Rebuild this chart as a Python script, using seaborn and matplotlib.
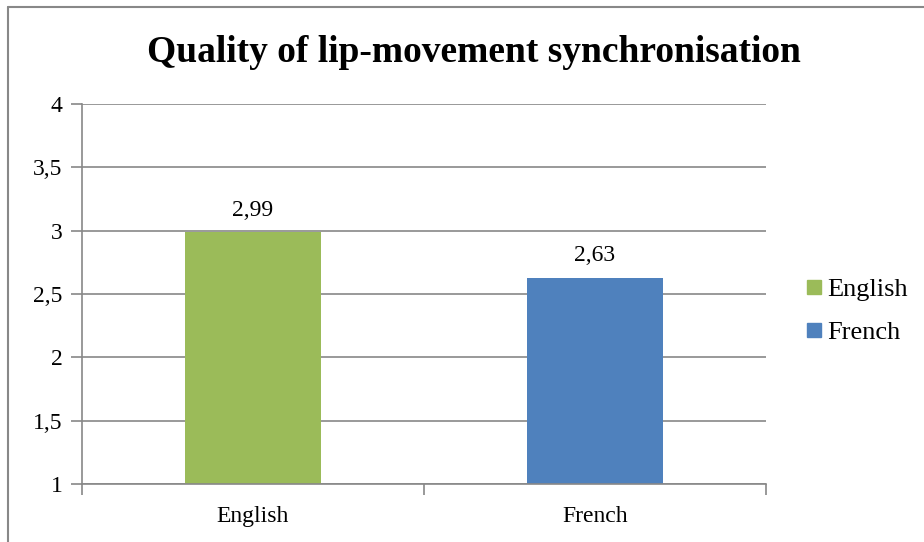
import matplotlib
matplotlib.use("Agg")
import matplotlib.pyplot as plt
import matplotlib.lines as mlines
import seaborn as sns

# chart data
languages = ["English", "French"]
scores = [2.99, 2.63]
score_labels = ["2,99", "2,63"]
y_ticks = [1, 1.5, 2, 2.5, 3, 3.5, 4]
y_tick_labels = ["1", "1,5", "2", "2,5", "3", "3,5", "4"]
colors = ["#9BBB59", "#4F81BD"]

sns.set_style("white")
plt.rcParams["font.family"] = ["Liberation Serif", "DejaVu Serif"]
plt.rcParams["text.color"] = "black"

fig = plt.figure(figsize=(9.24, 5.42), dpi=100)
ax = fig.add_axes([82 / 924, 1 - 484 / 542, (766 - 82) / 924, (484 - 104) / 542])

sns.barplot(x=languages, y=scores, hue=languages, palette=colors,
            width=0.4, dodge=False, legend=False, ax=ax, saturation=1,
            linewidth=0)

ax.set_ylim(1, 4)
ax.set_xlim(-0.5, 1.5)
ax.set_yticks(y_ticks)
ax.set_yticklabels(y_tick_labels, fontsize=17)
ax.tick_params(axis="x", labelsize=17, length=0, pad=16, labelcolor="black")
ax.tick_params(axis="y", length=8, width=1.2, color="#888888", pad=6, left=True,
               labelcolor="black")
ax.grid(axis="y", color="#888888", linewidth=1.2)
ax.set_axisbelow(True)
ax.set_xlabel("")
ax.set_ylabel("")

# category boundary ticks on the x axis
ax.set_xticks([-0.5, 0.5, 1.5], minor=True)
ax.tick_params(axis="x", which="minor", length=8, width=1.2, color="#888888", bottom=True)

for side in ["top", "right"]:
    ax.spines[side].set_visible(False)
for side in ["left", "bottom"]:
    ax.spines[side].set_color("#888888")
    ax.spines[side].set_linewidth(1.2)

for cont, lab in zip(ax.containers, score_labels):
    ax.bar_label(cont, labels=[lab], padding=8, fontsize=17, color="black")

handles = [mlines.Line2D([], [], marker="s", linestyle="", markersize=9.5,
                         markerfacecolor=c, markeredgecolor=c) for c in colors]
ax.legend(handles, languages, loc="center left", bbox_to_anchor=(806 / 924, 1 - 311 / 542),
          bbox_transform=fig.transFigure, frameon=False, fontsize=19,
          handlelength=0.6, handletextpad=0.2, labelspacing=0.75, borderaxespad=0,
          borderpad=0)

fig.text(0.513, 1 - 53 / 542, "Quality of lip-movement synchronisation",
         ha="center", va="center", fontsize=27, fontweight="bold", color="black")

# outer chart border (only top and left visible in the crop)
fig.add_artist(mlines.Line2D([8 / 924, 8 / 924], [0, 1 - 7 / 542], color="#888888", lw=1.5))
fig.add_artist(mlines.Line2D([8 / 924, 1], [1 - 7 / 542, 1 - 7 / 542], color="#888888", lw=1.5))

fig.savefig("out.png", dpi=100)
